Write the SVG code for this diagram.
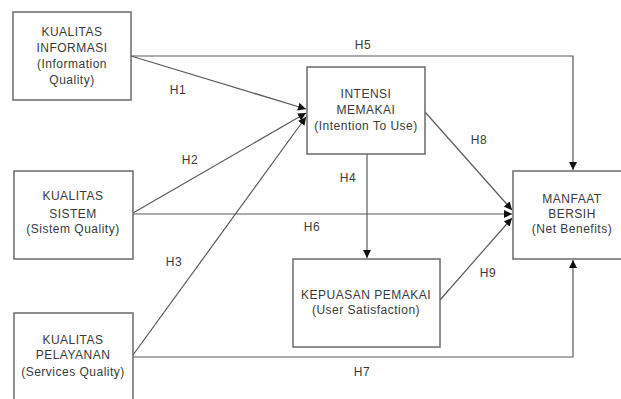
<svg xmlns="http://www.w3.org/2000/svg" width="621" height="399" viewBox="0 0 621 399">
<style>
.box{fill:#fff;stroke:#6a6a6a;stroke-width:1.5}
.t{font-family:"Liberation Sans",Arial,sans-serif;font-size:12px;letter-spacing:0.5px;fill:#3a3a3a;text-anchor:middle}
.c{fill:none;stroke:#5a5a5a;stroke-width:1.2}
</style>
<defs>
<marker id="ah" viewBox="0 0 10 10" refX="10" refY="5" markerWidth="8" markerHeight="8" markerUnits="userSpaceOnUse" orient="auto">
<path d="M0,0 L10,5 L0,10 z" fill="#111"/>
</marker>
</defs>
<rect width="621" height="399" fill="#fff"/>
<g id="connectors">
<polyline class="c" points="131,56 573,56 573,170" marker-end="url(#ah)"/>
<line class="c" x1="131" y1="56" x2="306" y2="109" marker-end="url(#ah)"/>
<line class="c" x1="133" y1="213" x2="306" y2="113" marker-end="url(#ah)"/>
<line class="c" x1="133" y1="355" x2="306" y2="117" marker-end="url(#ah)"/>
<line class="c" x1="133" y1="214" x2="512" y2="214" marker-end="url(#ah)"/>
<line class="c" x1="367" y1="154" x2="367" y2="258" marker-end="url(#ah)"/>
<line class="c" x1="425" y1="112" x2="512" y2="210" marker-end="url(#ah)"/>
<line class="c" x1="440" y1="300" x2="512" y2="218" marker-end="url(#ah)"/>
<polyline class="c" points="133,357 573,357 573,260" marker-end="url(#ah)"/>
<text class="t" x="363" y="49">H5</text>
<text class="t" x="178" y="94">H1</text>
<text class="t" x="190" y="164">H2</text>
<text class="t" x="174" y="266">H3</text>
<text class="t" x="312" y="231">H6</text>
<text class="t" x="348" y="182">H4</text>
<text class="t" x="479" y="144">H8</text>
<text class="t" x="488" y="277">H9</text>
<text class="t" x="362" y="376">H7</text>
</g>
<g id="kualitas-informasi">
<rect class="box" x="13" y="12" width="118" height="88"/>
<text class="t" x="72" y="36">KUALITAS</text>
<text class="t" x="72" y="52">INFORMASI</text>
<text class="t" x="72" y="68">(Information</text>
<text class="t" x="72" y="84">Quality)</text>
</g>
<g id="kualitas-sistem">
<rect class="box" x="14" y="171" width="119" height="88"/>
<text class="t" x="73" y="200">KUALITAS</text>
<text class="t" x="73" y="218">SISTEM</text>
<text class="t" x="73" y="233">(Sistem Quality)</text>
</g>
<g id="kualitas-pelayanan">
<rect class="box" x="14" y="313" width="119" height="88"/>
<text class="t" x="73" y="344">KUALITAS</text>
<text class="t" x="73" y="359">PELAYANAN</text>
<text class="t" x="73" y="376">(Services Quality)</text>
</g>
<g id="intensi-memakai">
<rect class="box" x="307" y="67" width="118" height="87"/>
<text class="t" x="366" y="98">INTENSI</text>
<text class="t" x="366" y="114">MEMAKAI</text>
<text class="t" x="366" y="130">(Intention To Use)</text>
</g>
<g id="kepuasan-pemakai">
<rect class="box" x="293" y="259" width="147" height="88"/>
<text class="t" x="366" y="299">KEPUASAN PEMAKAI</text>
<text class="t" x="366" y="314">(User Satisfaction)</text>
</g>
<g id="manfaat-bersih">
<rect class="box" x="513" y="171" width="118" height="88"/>
<text class="t" x="572" y="203">MANFAAT</text>
<text class="t" x="572" y="218">BERSIH</text>
<text class="t" x="572" y="233">(Net Benefits)</text>
</g>
</svg>
